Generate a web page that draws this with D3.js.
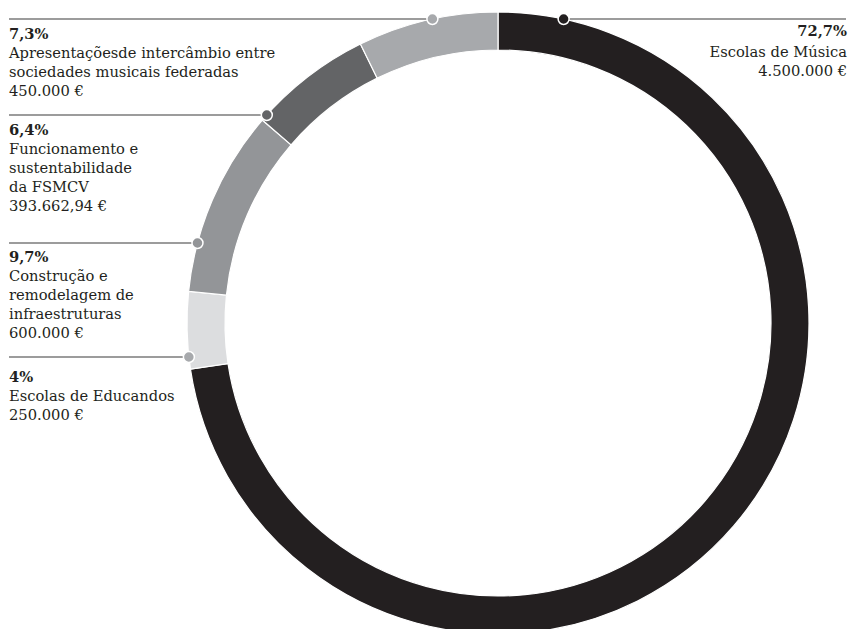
<!DOCTYPE html>
<html lang="pt">
<head>
    <meta charset="UTF-8">
    <title>Distribuição do orçamento</title>
    <script src="https://d3js.org/d3.v7.min.js"></script>
    <style>
        body { margin: 0; background: #fff; }
        svg { display: block; }
        .lbl { font-family: "DejaVu Serif", serif; font-size: 14.7px; fill: #231f20; }
        .pct { font-weight: bold; }
    </style>
</head>
<body>
    <svg id="chart"></svg>
    <script>
        // data, clockwise from the top of the ring
        const categories = [
            "Escolas de Música",
            "Escolas de Educandos",
            "Construção e remodelagem de infraestruturas",
            "Funcionamento e sustentabilidade da FSMCV",
            "Apresentaçõesde intercâmbio entre sociedades musicais federadas"
        ];
        const shares = [72.7, 4, 9.7, 6.4, 7.3];
        const shareLabels = ["72,7%", "4%", "9,7%", "6,4%", "7,3%"];
        const amounts = ["4.500.000 €", "250.000 €", "600.000 €", "393.662,94 €", "450.000 €"];
        const labelLines = [
            ["Escolas de Música"],
            ["Escolas de Educandos"],
            ["Construção e", "remodelagem de", "infraestruturas"],
            ["Funcionamento e", "sustentabilidade", "da FSMCV"],
            ["Apresentaçõesde intercâmbio entre", "sociedades musicais federadas"]
        ];
        const colors = ["#231f20", "#dcdddf", "#939598", "#636466", "#a7a9ac"];
        const dotColors = ["#231f20", "#a7a9ac", "#939598", "#636466", "#a7a9ac"];

        // layout
        const width = 854, height = 629;
        const cx = 498, cy = 323, outerR = 311, innerR = 273;
        const calloutY = [19, 357, 243, 115, 19];   // leader line heights
        const textY = [36, 382, 262, 135, 39];      // first baseline of each label
        const sideRight = [true, false, false, false, false];
        const lineH = 19;

        const svg = d3.select("#chart")
            .attr("width", width)
            .attr("height", height);

        const pie = d3.pie().sort(null).value(d => d)
            .startAngle(0).endAngle(2 * Math.PI);
        const arc = d3.arc().innerRadius(innerR).outerRadius(outerR);

        const ring = svg.append("g")
            .attr("transform", `translate(${cx},${cy})`);

        ring.selectAll("path")
            .data(pie(shares))
            .join("path")
            .attr("d", arc)
            .attr("fill", (d, i) => colors[i])
            .attr("stroke", "#fff")
            .attr("stroke-width", 1.2);

        const callouts = svg.append("g");

        categories.forEach((c, i) => {
            const y = calloutY[i];
            const dx = Math.sqrt(outerR * outerR - (y - cy) * (y - cy));
            const dotX = sideRight[i] ? cx + dx : cx - dx;

            callouts.append("line")
                .attr("x1", sideRight[i] ? dotX : 9)
                .attr("x2", sideRight[i] ? 846 : dotX)
                .attr("y1", y).attr("y2", y)
                .attr("stroke", "#3a3a3a")
                .attr("stroke-width", 1.2);

            callouts.append("circle")
                .attr("cx", dotX).attr("cy", y)
                .attr("r", 5.5)
                .attr("fill", dotColors[i])
                .attr("stroke", "#fff")
                .attr("stroke-width", 1.5);

            const tx = sideRight[i] ? 847 : 9;
            const anchor = sideRight[i] ? "end" : "start";
            const rows = [shareLabels[i], ...labelLines[i], amounts[i]];

            const t = callouts.append("text")
                .attr("class", "lbl")
                .attr("text-anchor", anchor);

            rows.forEach((r, j) => {
                t.append("tspan")
                    .attr("x", tx)
                    .attr("y", textY[i] + j * lineH + (sideRight[i] && j > 0 ? 2 : 0))
                    .attr("class", j === 0 ? "pct" : null)
                    .text(r);
            });
        });
    </script>
</body>
</html>
